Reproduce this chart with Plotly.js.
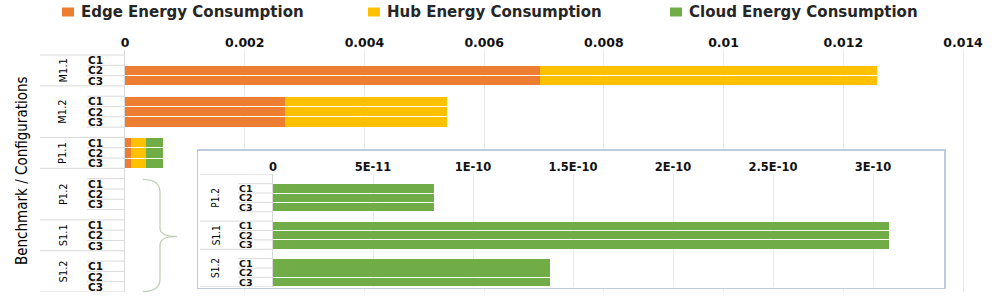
<!DOCTYPE html>
<html>
<head>
<meta charset="utf-8">
<script src="https://cdn.plot.ly/plotly-3.0.1.min.js"></script>
<style>
  html, body { margin: 0; padding: 0; background: #fff; }
  #chart { width: 997px; height: 299px; }
</style>
</head>
<body>
<div id="chart"></div>
<script>
// ---------------- DATA ----------------
const seriesNames = ['Edge Energy Consumption', 'Hub Energy Consumption', 'Cloud Energy Consumption'];
const benchmarks = ['M1.1', 'M1.2', 'P1.1', 'P1.2', 'S1.1', 'S1.2'];
const configs = ['C1', 'C2', 'C3'];
// one value per benchmark/configuration row (M1.1 C1..C3, M1.2 C1..C3, ...)
const edgeEnergy = [null, 0.00694, 0.00694,
                    0.002665, 0.002665, 0.002665,
                    0.0001, 0.0001, 0.0001,
                    0, 0, 0,
                    0, 0, 0,
                    0, 0, 0];
const hubEnergy = [null, 0.005626, 0.005626,
                   0.002718, 0.002718, 0.002718,
                   0.000256, 0.000256, 0.000256,
                   0, 0, 0,
                   0, 0, 0,
                   0, 0, 0];
const cloudEnergy = [null, 0, 0,
                     0, 0, 0,
                     0.00028, 0.00028, 0.00028,
                     8.05e-11, 8.05e-11, 8.05e-11,
                     3.08e-10, 3.08e-10, 3.08e-10,
                     1.387e-10, 1.387e-10, 1.387e-10];
const mainTickVals = [0, 0.002, 0.004, 0.006, 0.008, 0.01, 0.012, 0.014];
const mainTickText = ['0', '0.002', '0.004', '0.006', '0.008', '0.01', '0.012', '0.014'];
const insetTickVals = [0, 5e-11, 1e-10, 1.5e-10, 2e-10, 2.5e-10, 3e-10];
const insetTickText = ['0', '5E-11', '1E-10', '1.5E-10', '2E-10', '2.5E-10', '3E-10'];
const insetBenchmarks = ['P1.2', 'S1.1', 'S1.2'];

// ---------------- LAYOUT HELPERS ----------------
const colors = ['#ED7D31', '#FFC000', '#70AD47'];
const padBefore = [0, 1, 0, 1, 0, 1];   // empty category slots (as in the source axis)
const padAfter  = [0, 1, 0, 1, 0, 0];

const W = 997, H = 299, M = {l: 125, r: 28, t: 50, b: 7};
const PW = W - M.l - M.r, PH = H - M.t - M.b;
const px = v => (v - M.l) / PW;
const py = v => (H - M.b - v) / PH;

// slot position of each row and group boundaries
const rowSlot = [], rowLabel = [], groupSpan = [];
let s = 0;
benchmarks.forEach((b, g) => {
  const start = s;
  s += padBefore[g];
  configs.forEach(c => { rowSlot.push(s); rowLabel.push(c); s++; });
  s += padAfter[g];
  groupSpan.push([start - 0.5, s - 0.5]);
});
const lastBoundary = s - 0.5;

const traces = [];
[edgeEnergy, hubEnergy, cloudEnergy].forEach((vals, i) => {
  traces.push({
    type: 'bar', orientation: 'h', name: seriesNames[i],
    x: vals, y: rowSlot, width: 0.9,
    marker: {color: colors[i]},
    xaxis: 'x', yaxis: 'y', showlegend: false, hoverinfo: 'x'
  });
});
// frame subplot (background/border of inset)
traces.push({type: 'bar', x: [], y: [], xaxis: 'x2', yaxis: 'y2', showlegend: false, hoverinfo: 'skip'});
// inset: cloud energy
const insetIdx = [];
benchmarks.forEach((b, g) => { if (insetBenchmarks.includes(b)) configs.forEach((c, k) => insetIdx.push(g * 3 + k)); });
traces.push({
  type: 'bar', orientation: 'h', name: seriesNames[2],
  x: insetIdx.map(i => cloudEnergy[i]), y: insetIdx.map(i => rowSlot[i]), width: 0.9,
  marker: {color: colors[2]}, xaxis: 'x3', yaxis: 'y3', showlegend: false, hoverinfo: 'x'
});

const boldFam = 'DejaVu Sans, Verdana, sans-serif';
const narrowFam = 'DejaVu Sans Condensed, Liberation Sans Narrow, sans-serif';
const tickFont = {family: boldFam, size: 12.5, color: '#111', weight: 'bold'};
const catFont = {family: boldFam, size: 10.5, color: '#111', weight: 'bold'};
const grpFont = {family: narrowFam, size: 11, color: '#000'};
const lineCol = '#d9d9d9';

const shapes = [], annotations = [];
// main category lines and labels
for (let k = 0; k <= lastBoundary + 0.5; k++) {
  const yb = k - 0.5;
  const full = groupSpan.some(gs => Math.abs(gs[0] - yb) < 1e-9 || Math.abs(gs[1] - yb) < 1e-9);
  shapes.push({type: 'line', xref: 'paper', yref: 'y', x0: px(full ? 40 : 87), x1: px(125), y0: yb, y1: yb,
               line: {color: lineCol, width: 1}});
}
rowSlot.forEach((sl, i) => {
  annotations.push({xref: 'paper', yref: 'y', x: px(87), y: sl, text: rowLabel[i], showarrow: false,
                    xanchor: 'left', yanchor: 'middle', font: catFont, borderpad: 0});
});
benchmarks.forEach((b, g) => {
  annotations.push({xref: 'paper', yref: 'y', x: px(63), y: (groupSpan[g][0] + groupSpan[g][1]) / 2, text: b,
                    showarrow: false, textangle: -90, xanchor: 'center', yanchor: 'middle', font: grpFont});
});
// inset category lines and labels
const insetTop = groupSpan[benchmarks.indexOf(insetBenchmarks[0])][0];
for (let yb = insetTop; yb <= lastBoundary + 1e-9; yb += 1) {
  const full = groupSpan.some(gs => Math.abs(gs[0] - yb) < 1e-9 || Math.abs(gs[1] - yb) < 1e-9);
  shapes.push({type: 'line', xref: 'paper', yref: 'y3', x0: px(full ? 200 : 238), x1: px(273), y0: yb, y1: yb,
               line: {color: lineCol, width: 1}});
}
insetIdx.forEach(i => {
  annotations.push({xref: 'paper', yref: 'y3', x: px(238), y: rowSlot[i], text: rowLabel[i], showarrow: false,
                    xanchor: 'left', yanchor: 'middle', font: Object.assign({}, catFont, {size: 9.5}), borderpad: 0});
});
insetBenchmarks.forEach(b => {
  const g = benchmarks.indexOf(b);
  annotations.push({xref: 'paper', yref: 'y3', x: px(216), y: (groupSpan[g][0] + groupSpan[g][1]) / 2, text: b,
                    showarrow: false, textangle: -90, xanchor: 'center', yanchor: 'middle',
                    font: Object.assign({}, grpFont, {size: 10})});
});
// axis title
annotations.push({xref: 'paper', yref: 'paper', x: px(22), y: py(171), text: 'Benchmark / Configurations',
                  showarrow: false, textangle: -90, xanchor: 'center', yanchor: 'middle',
                  font: {family: narrowFam, size: 15, color: '#000'}});
// legend
const legX = [62, 368, 670];
seriesNames.forEach((n, i) => {
  shapes.push({type: 'rect', xref: 'paper', yref: 'paper', x0: px(legX[i]), x1: px(legX[i] + 12),
               y0: py(16.5), y1: py(7.5), fillcolor: colors[i], line: {width: 0}});
  annotations.push({xref: 'paper', yref: 'paper', x: px(legX[i] + 17), y: py(12), text: n, showarrow: false,
                    xanchor: 'left', yanchor: 'middle',
                    font: {family: boldFam, size: 15, color: '#262626', weight: 'bold'}});
});
// brace
const bracePts = [[143, 179.5], [160, 179.5], [160, 192], [160, 228], [160, 236.5], [177, 236.5], [160, 236.5], [160, 245], [160, 279], [160, 291.5], [143, 291.5]];
const P = p => px(p[0]).toFixed(5) + ',' + py(p[1]).toFixed(5);
const bracePath = 'M' + P(bracePts[0]) + ' Q' + P(bracePts[1]) + ' ' + P(bracePts[2]) + ' L' + P(bracePts[3]) +
  ' Q' + P(bracePts[4]) + ' ' + P(bracePts[5]) + ' Q' + P(bracePts[6]) + ' ' + P(bracePts[7]) + ' L' + P(bracePts[8]) +
  ' Q' + P(bracePts[9]) + ' ' + P(bracePts[10]);
shapes.push({type: 'path', xref: 'paper', yref: 'paper', path: bracePath, line: {color: '#b9ccb0', width: 1.2}});

const layout = {
  width: W, height: H, margin: M,
  paper_bgcolor: '#fff', plot_bgcolor: '#fff',
  barmode: 'stack', bargap: 0, showlegend: false,
  xaxis: {domain: [0, 1], range: [0, 0.0141], side: 'top', anchor: 'y',
          tickvals: mainTickVals, ticktext: mainTickText, tickfont: tickFont,
          showgrid: true, gridcolor: '#ebebeb', zeroline: false, showline: false, ticks: '', fixedrange: true},
  yaxis: {domain: [0, 1], range: [lastBoundary, -0.985], anchor: 'x', showticklabels: false,
          showgrid: false, zeroline: false, showline: true, linecolor: lineCol, linewidth: 1, ticks: '', fixedrange: true},
  xaxis2: {domain: [px(198), px(944)], range: [0, 1], anchor: 'y2', showgrid: false, zeroline: false,
           showticklabels: false, ticks: '', showline: true, mirror: true, linecolor: '#bccbe0', linewidth: 1.5, fixedrange: true},
  yaxis2: {domain: [py(287.7), py(150.7)], range: [0, 1], anchor: 'x2', showgrid: false, zeroline: false,
           showticklabels: false, ticks: '', showline: true, mirror: true, linecolor: '#bccbe0', linewidth: 1.5, fixedrange: true},
  xaxis3: {domain: [px(273), px(933)], range: [0, 3.3e-10], side: 'top', anchor: 'y3',
           tickvals: insetTickVals, ticktext: insetTickText, tickfont: Object.assign({}, tickFont, {size: 11.5}),
           showgrid: true, gridcolor: '#ebebeb', zeroline: false, showline: false, ticks: '', fixedrange: true},
  yaxis3: {domain: [py(286.7), py(174.3)], range: [lastBoundary, insetTop], anchor: 'x3', showticklabels: false,
           showgrid: false, zeroline: false, showline: true, linecolor: lineCol, linewidth: 1, ticks: '', fixedrange: true},
  shapes: shapes, annotations: annotations
};

Plotly.newPlot('chart', traces, layout, {displayModeBar: false, staticPlot: true});
</script>
</body>
</html>
